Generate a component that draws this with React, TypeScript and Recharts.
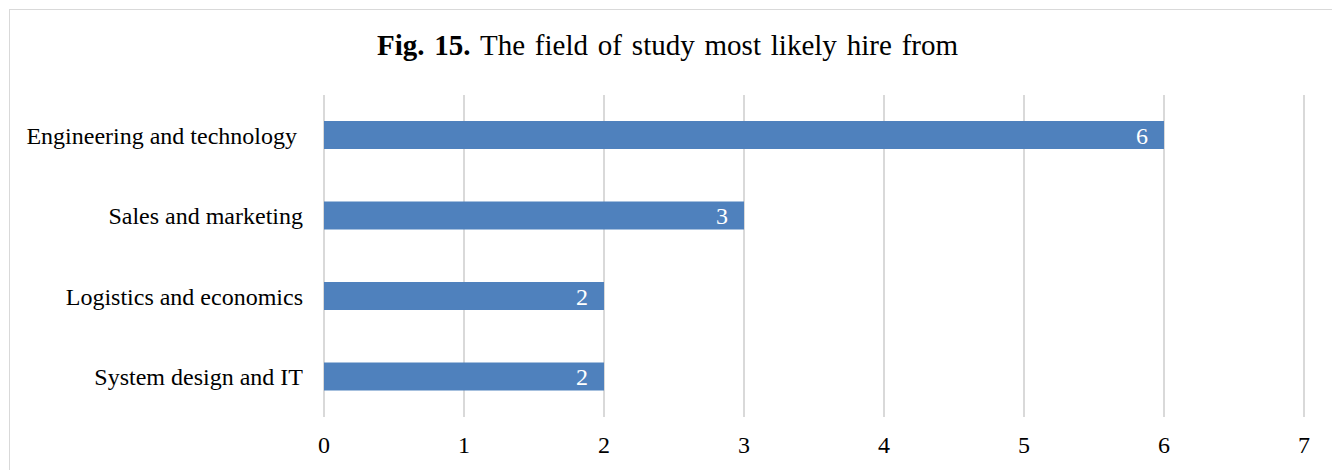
import { Bar, BarChart, CartesianGrid, LabelList, XAxis, YAxis } from "recharts";

const categories = ["Engineering and technology\u00a0", "Sales and marketing", "Logistics and economics", "System design and IT"];
const counts = [6, 3, 2, 2];
const xTicks = [0, 1, 2, 3, 4, 5, 6, 7];

const FONT = '"Liberation Serif", "Times New Roman", serif';

export default function App() {
  const data = categories.map((name, i) => ({ name, value: counts[i] }));

  return (
    <div
      style={{
        position: "relative",
        marginLeft: 1,
        marginTop: 1,
        width: 1329,
        height: 470,
        border: "1px solid #d9d9d9",
        background: "#fff",
        fontFamily: FONT,
      }}
    >
      <div
        style={{
          position: "absolute",
          top: 19,
          left: -7,
          width: "100%",
          textAlign: "center",
          fontSize: 29,
          color: "#000",
          wordSpacing: 2.6,
        }}
      >
        <b>Fig. 15.</b> The field of study most likely hire from
      </div>
      <BarChart
        width={1329}
        height={470}
        data={data}
        layout="vertical"
        margin={{ top: 85, right: 35, left: 0, bottom: 23 }}
        barCategoryGap={0}
      >
        <CartesianGrid horizontal={false} stroke="#d9d9d9" strokeWidth={2} />
        <XAxis
          type="number"
          domain={[0, 7]}
          ticks={xTicks}
          interval={0}
          axisLine={false}
          tickLine={false}
          tickSize={0}
          tickMargin={19}
          height={40}
          tick={{ fontSize: 24, fill: "#000", fontFamily: FONT }}
        />
        <YAxis
          type="category"
          dataKey="name"
          width={314}
          axisLine={false}
          tickLine={false}
          tickSize={0}
          tickMargin={21}
          tick={{ fontSize: 24, fill: "#000", fontFamily: FONT }}
        />
        <Bar dataKey="value" fill="#4f81bd" barSize={28} isAnimationActive={false}>
          <LabelList
            dataKey="value"
            position="insideRight"
            offset={16}
            style={{ fill: "#fff", fontSize: 24, fontFamily: FONT }}
          />
        </Bar>
      </BarChart>
    </div>
  );
}
